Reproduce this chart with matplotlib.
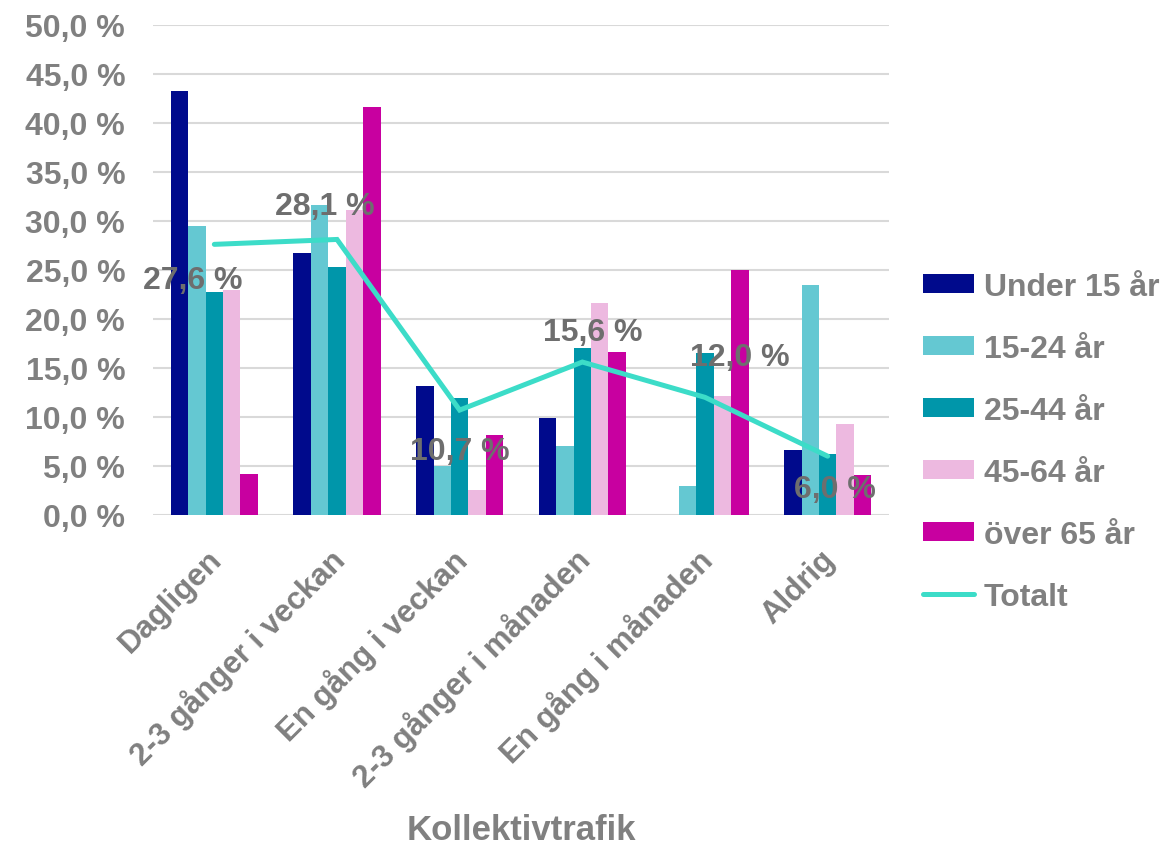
import matplotlib
matplotlib.use("Agg")
import matplotlib.pyplot as plt
import matplotlib.transforms as mtransforms
import numpy as np

categories = ["Dagligen", "2-3 gånger i veckan", "En gång i veckan",
              "2-3 gånger i månaden", "En gång i månaden", "Aldrig"]
series_names = ["Under 15 år", "15-24 år", "25-44 år", "45-64 år", "över 65 år"]
under15 = [43.2, 26.7, 13.2, 9.9, 0.0, 6.6]
age15_24 = [29.5, 31.6, 5.0, 7.0, 3.0, 23.5]
age25_44 = [22.7, 25.3, 11.9, 17.0, 16.5, 6.2]
age45_64 = [22.9, 31.1, 2.6, 21.6, 12.1, 9.3]
over65 = [4.2, 41.6, 8.2, 16.6, 25.0, 4.1]
totalt = [27.6, 28.1, 10.7, 15.6, 12.0, 6.0]
yticks = [0, 5, 10, 15, 20, 25, 30, 35, 40, 45, 50]

colors = ["#000A8C", "#64C8D2", "#0096AA", "#EDB9E0", "#C800A0"]
line_color = "#3CDCC8"
gray = "#808080"
label_gray = "#6E6E6E"
# label offsets in pixels (dx, dy; dy positive = up)
label_offsets = [(-22, -36), (-12, 33), (0, -41), (10, 30), (35, 40), (7, -33)]

plt.rcParams['font.family'] = ['Liberation Sans', 'DejaVu Sans']
plt.rcParams['font.weight'] = 'bold'
FS = 23

fig = plt.figure(figsize=(11.68, 8.45), dpi=100)
ax = fig.add_axes([153/1168, 1-516/845, (889-153)/1168, (516-25.7)/845])

x = np.arange(len(categories))
all_series = [under15, age15_24, age25_44, age45_64, over65]
bw = 0.142
handles = []
for i, (vals, c, name) in enumerate(zip(all_series, colors, series_names)):
    h = ax.bar(x + (i - 2) * bw, vals, width=bw, color=c, label=name, zorder=2)
    handles.append(h)

ln, = ax.plot(x, totalt, color=line_color, lw=3.6, solid_capstyle='round',
              solid_joinstyle='miter', label="Totalt", zorder=3)
handles.append(ln)

for xi, v, (dx, dy) in zip(x, totalt, label_offsets):
    ax.annotate(f"{v:.1f} %".replace(".", ","), (xi, v),
                xytext=(dx * 0.72, dy * 0.72), textcoords='offset points',
                ha='center', va='center', fontsize=FS, fontweight='bold',
                color=label_gray, zorder=4)

ax.set_xlim(-0.5, len(categories) - 0.5)
ax.set_ylim(0, 50)
ax.set_yticks(yticks)
ax.set_yticklabels([f"{t:.1f} %".replace(".", ",") for t in yticks],
                   fontsize=FS, fontweight='bold', color=gray)
ax.grid(axis='y', color='#D9D9D9', lw=1.5, zorder=0)
ax.set_axisbelow(True)
for s in ax.spines.values():
    s.set_visible(False)
ax.tick_params(axis='y', length=0, pad=20)
ax.tick_params(axis='x', length=0, pad=28.5)

ax.set_xticks(x)
ax.set_xticklabels(categories, rotation=45, ha='right', va='center',
                   rotation_mode='anchor', fontsize=22.5, fontweight='bold',
                   color=gray)
offset = mtransforms.ScaledTranslation(3/100, 0, fig.dpi_scale_trans)
for lab in ax.get_xticklabels():
    lab.set_transform(lab.get_transform() + offset)

ax.set_xlabel("Kollektivtrafik", fontsize=25, fontweight='bold', color=gray)
ax.xaxis.set_label_coords(0.5, -(840-516)/490.3)
ax.xaxis.label.set_va('baseline')

leg = ax.legend(handles=handles, labels=series_names + ["Totalt"],
                loc='upper left', bbox_to_anchor=(923/1168, 1-273/845),
                bbox_transform=fig.transFigure, frameon=False,
                fontsize=FS, handlelength=1.6, handleheight=0.55,
                handletextpad=0.3, labelspacing=1.0, borderpad=0,
                borderaxespad=0)
for t in leg.get_texts():
    t.set_color(gray)
    t.set_fontweight('bold')

fig.savefig("out.png", dpi=100)
